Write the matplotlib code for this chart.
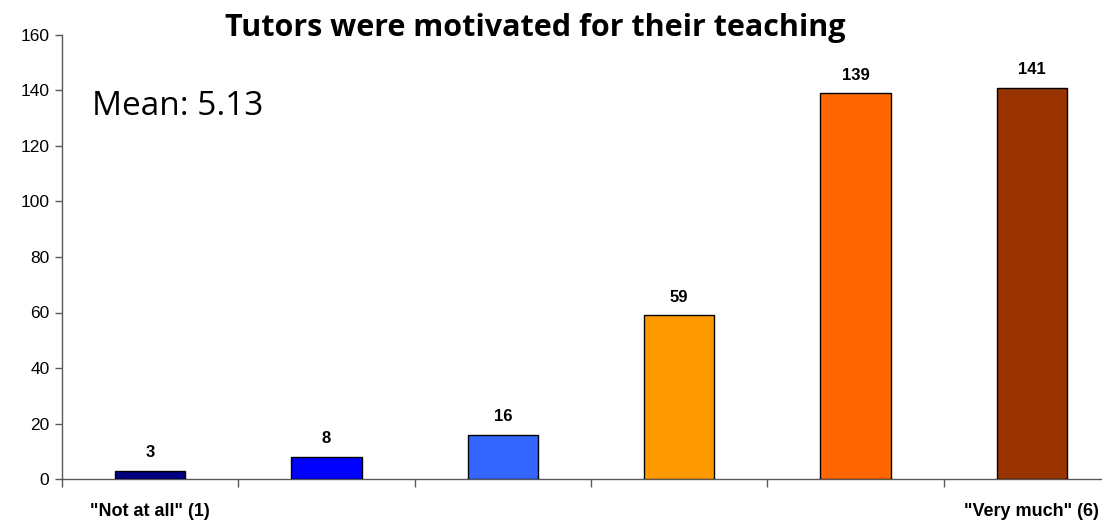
import matplotlib
matplotlib.use("Agg")
import matplotlib.pyplot as plt
from matplotlib.ticker import FixedLocator, NullFormatter

# Survey responses on a 1-6 scale
categories = ['"Not at all" (1)', "2", "3", "4", "5", '"Very much" (6)']
counts = [3, 8, 16, 59, 139, 141]
colors = ["#000080", "#0000FF", "#3366FF", "#FF9900", "#FF6600", "#993300"]
shown_labels = ['"Not at all" (1)', "", "", "", "", '"Very much" (6)']
y_ticks = [0, 20, 40, 60, 80, 100, 120, 140, 160]
title = "Tutors were motivated for their teaching"
mean_text = "Mean: 5.13"

W, H = 1102, 523
fig = plt.figure(figsize=(W / 100, H / 100), dpi=100)
# Plot area runs slightly past the right edge of the canvas
ax = fig.add_axes([62 / W, 44 / H, 1058 / W, 444 / H])

x = list(range(len(counts)))
ax.bar(x, counts, width=0.40, color=colors, edgecolor="black", linewidth=1, zorder=3)

for xi, v in zip(x, counts):
    ax.annotate(str(v), (xi, v), xytext=(0, 7.5), textcoords="offset points",
                ha="center", va="bottom", fontsize=12, fontweight="bold",
                family="Liberation Sans")

ax.set_xlim(-0.5, len(counts) - 0.5)
ax.set_ylim(0, 160)
ax.set_yticks(y_ticks)
ax.set_yticklabels([str(t) for t in y_ticks], family="Liberation Sans", fontsize=12.5)

# Category separators as ticks, labels centred under the end bars
ax.xaxis.set_major_locator(FixedLocator([i + 0.5 for i in range(-1, len(counts))]))
ax.xaxis.set_major_formatter(NullFormatter())
ax.xaxis.set_minor_locator(FixedLocator(x))
ax.set_xticklabels(shown_labels, minor=True, family="Liberation Sans",
                   fontsize=13, fontweight="bold")
ax.tick_params(axis="x", which="major", length=6, width=1, color="#595959", direction="out")
ax.tick_params(axis="x", which="minor", length=0, pad=17)
ax.tick_params(axis="y", length=5, width=1, color="#595959", direction="out", pad=4)

for side in ("top", "right"):
    ax.spines[side].set_visible(False)
for side in ("left", "bottom"):
    ax.spines[side].set_color("#595959")
    ax.spines[side].set_linewidth(1)

fig.text(535 / W, 1 - 36 / H, title, ha="center", va="baseline",
         fontsize=22, fontweight="bold", family="Open Sans")
fig.text(92 / W, 1 - 115 / H, mean_text, ha="left", va="baseline",
         fontsize=24, family="Open Sans")

fig.savefig("out.png", dpi=100)
